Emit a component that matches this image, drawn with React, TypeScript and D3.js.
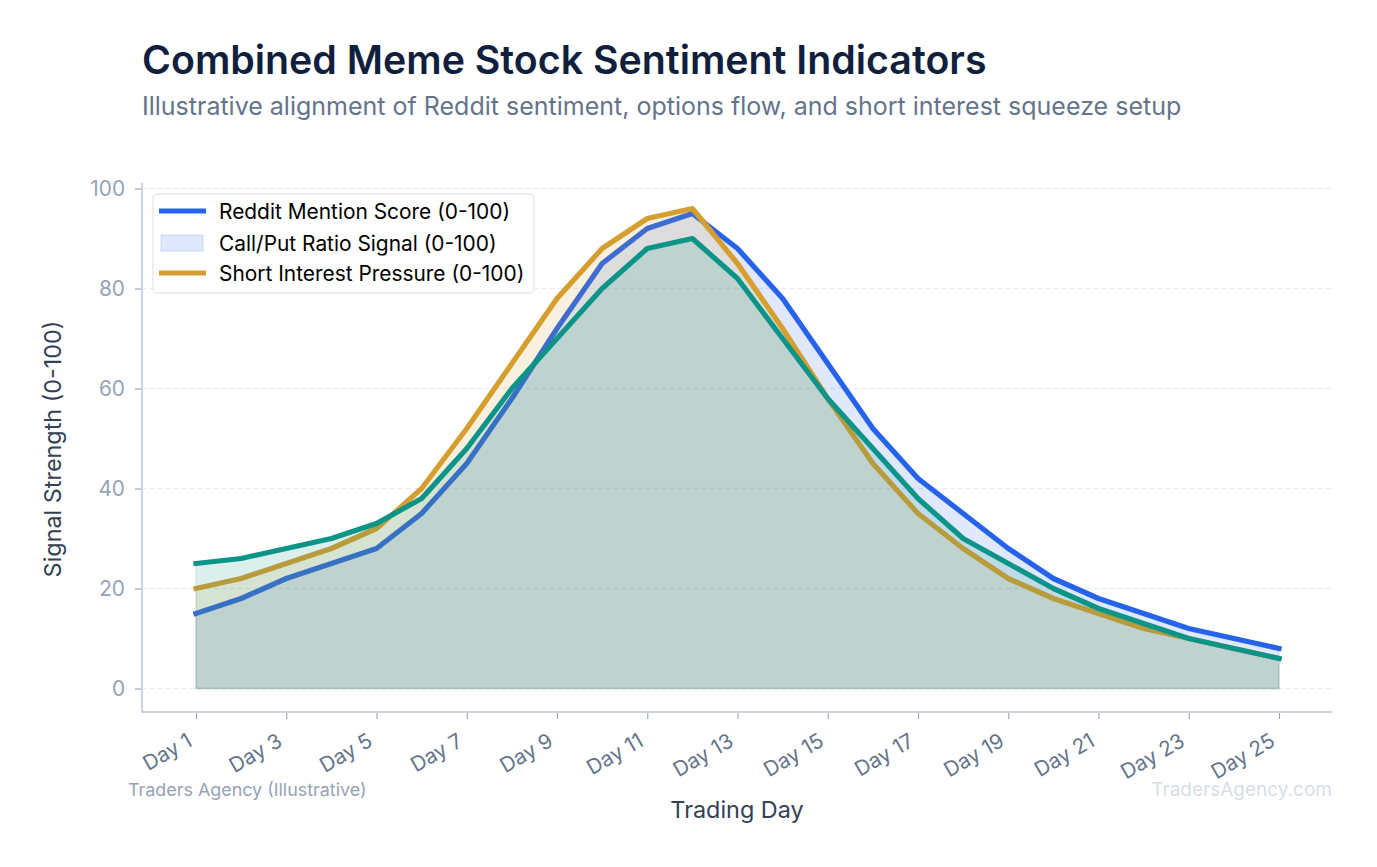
import React, { useEffect, useRef } from 'react';
import * as d3 from 'd3';

const days = d3.range(1, 26).map((d) => `Day ${d}`);
const tickDays = days.filter((_, i) => i % 2 === 0);
const yTicks = [0, 20, 40, 60, 80, 100];

const redditScore = [15, 18, 22, 25, 28, 35, 45, 58, 72, 85, 92, 95, 88, 78, 65, 52, 42, 35, 28, 22, 18, 15, 12, 10, 8];
const shortPressure = [20, 22, 25, 28, 32, 40, 52, 65, 78, 88, 94, 96, 85, 72, 58, 45, 35, 28, 22, 18, 15, 12, 10, 8, 6];
const callPutSignal = [25, 26, 28, 30, 33, 38, 48, 60, 70, 80, 88, 90, 82, 70, 58, 48, 38, 30, 25, 20, 16, 13, 10, 8, 6];

const seriesList = [
  { values: redditScore, color: '#2563eb' },
  { values: shortPressure, color: '#d69e2e' },
  { values: callPutSignal, color: '#0d9488' }
];

const legendItems = [
  { label: 'Reddit Mention Score (0-100)', color: '#2563eb', patch: false },
  { label: 'Call/Put Ratio Signal (0-100)', color: '#2563eb', patch: true },
  { label: 'Short Interest Pressure (0-100)', color: '#d69e2e', patch: false }
];

const FONT = 'Inter, sans-serif';

const App: React.FC = () => {
  const svgRef = useRef<SVGSVGElement>(null);

  useEffect(() => {
    if (!svgRef.current) {
      return;
    }
    const svg = d3.select(svgRef.current);
    svg.selectAll('*').remove();
    svg.style('font-family', FONT);

    const x = d3.scalePoint<string>().domain(days).range([196, 1279]);
    const y = d3.scaleLinear().domain([0, 100]).range([688.5, 188.5]);

    // gridlines
    svg
      .append('g')
      .selectAll('line')
      .data(yTicks)
      .enter()
      .append('line')
      .attr('x1', 142)
      .attr('x2', 1332)
      .attr('y1', (d) => y(d))
      .attr('y2', (d) => y(d))
      .attr('stroke', '#e2e8f0')
      .attr('stroke-opacity', 0.8)
      .attr('stroke-width', 1.3)
      .attr('stroke-dasharray', '5 3');

    const area = d3
      .area<number>()
      .x((_, i) => x(days[i]) as number)
      .y0(y(0))
      .y1((d) => y(d));
    const line = d3
      .line<number>()
      .x((_, i) => x(days[i]) as number)
      .y((d) => y(d));

    seriesList.forEach((s) => {
      svg
        .append('path')
        .attr('d', area(s.values))
        .attr('fill', s.color)
        .attr('fill-opacity', 0.15)
        .attr('stroke', s.color)
        .attr('stroke-opacity', 0.15)
        .attr('stroke-width', 1.3);
      svg
        .append('path')
        .attr('d', line(s.values))
        .attr('fill', 'none')
        .attr('stroke', s.color)
        .attr('stroke-width', 5.2)
        .attr('stroke-linejoin', 'round')
        .attr('stroke-linecap', 'square');
    });

    // axes
    const yAxis = svg
      .append('g')
      .attr('transform', 'translate(142,0)')
      .call(d3.axisLeft(y).tickValues(yTicks).tickSize(7).tickPadding(10));
    yAxis.select('.domain').remove();
    yAxis.selectAll('.tick line').attr('stroke', '#94a3b8').attr('stroke-width', 1.1);
    yAxis
      .selectAll('.tick text')
      .attr('fill', '#94a3b8')
      .attr('font-size', 20.8)
      .attr('font-family', FONT);

    const xAxis = svg
      .append('g')
      .attr('transform', 'translate(0,712)')
      .call(d3.axisBottom(x).tickValues(tickDays).tickSize(7));
    xAxis.select('.domain').remove();
    xAxis.selectAll('.tick line').attr('stroke', '#94a3b8').attr('stroke-width', 1.1);
    xAxis
      .selectAll('.tick text')
      .attr('fill', '#64748b')
      .attr('font-size', 20.8)
      .attr('font-family', FONT)
      .attr('text-anchor', 'end')
      .attr('dy', null)
      .attr('x', 0)
      .attr('y', 0)
      .attr('transform', 'translate(-3,33) rotate(-30)');

    svg.append('line').attr('x1', 142).attr('x2', 142).attr('y1', 183).attr('y2', 713).attr('stroke', '#cbd5e1').attr('stroke-width', 2);
    svg.append('line').attr('x1', 142).attr('x2', 1332).attr('y1', 712).attr('y2', 712).attr('stroke', '#cbd5e1').attr('stroke-width', 2);

    // legend
    const legend = svg.append('g');
    legend
      .append('rect')
      .attr('x', 153)
      .attr('y', 194)
      .attr('width', 381)
      .attr('height', 99)
      .attr('rx', 4)
      .attr('fill', '#ffffff')
      .attr('fill-opacity', 0.9)
      .attr('stroke', '#e2e8f0')
      .attr('stroke-width', 1.3);
    legendItems.forEach((item, i) => {
      const cy = [211, 243, 273][i];
      if (item.patch) {
        legend
          .append('rect')
          .attr('x', 161)
          .attr('y', cy - 8)
          .attr('width', 42)
          .attr('height', 16)
          .attr('fill', item.color)
          .attr('fill-opacity', 0.15)
          .attr('stroke', item.color)
          .attr('stroke-opacity', 0.15)
          .attr('stroke-width', 1.3);
      } else {
        legend
          .append('line')
          .attr('x1', 159)
          .attr('x2', 206)
          .attr('y1', cy)
          .attr('y2', cy)
          .attr('stroke', item.color)
          .attr('stroke-width', 5);
      }
      legend
        .append('text')
        .attr('x', 219)
        .attr('y', cy + 8)
        .attr('fill', '#000000')
        .attr('font-size', 20.9)
        .text(item.label);
    });

    // titles and labels
    svg.append('text').attr('x', 142).attr('y', 74).attr('fill', '#0f1f3d').attr('font-size', 39.3).attr('font-weight', 600).text('Combined Meme Stock Sentiment Indicators');
    svg.append('text').attr('x', 142).attr('y', 115).attr('fill', '#64748b').attr('font-size', 25).text('Illustrative alignment of Reddit sentiment, options flow, and short interest squeeze setup');
    svg
      .append('text')
      .attr('transform', 'translate(61,449) rotate(-90)')
      .attr('text-anchor', 'middle')
      .attr('fill', '#334155')
      .attr('font-size', 23.4)
      .text('Signal Strength (0-100)');
    svg.append('text').attr('x', 737).attr('y', 818).attr('text-anchor', 'middle').attr('fill', '#334155').attr('font-size', 23.4).text('Trading Day');
    svg.append('text').attr('x', 128).attr('y', 796).attr('fill', '#94a3b8').attr('font-size', 17.9).text('Traders Agency (Illustrative)');
    svg.append('text').attr('x', 1332).attr('y', 796).attr('text-anchor', 'end').attr('fill', '#cbd5e1').attr('fill-opacity', 0.8).attr('font-size', 19).text('TradersAgency.com');
  }, []);

  return <svg ref={svgRef} width={1377} height={867} style={{ position: 'absolute', left: 0, top: 0, background: '#ffffff' }} />;
};

export default App;
